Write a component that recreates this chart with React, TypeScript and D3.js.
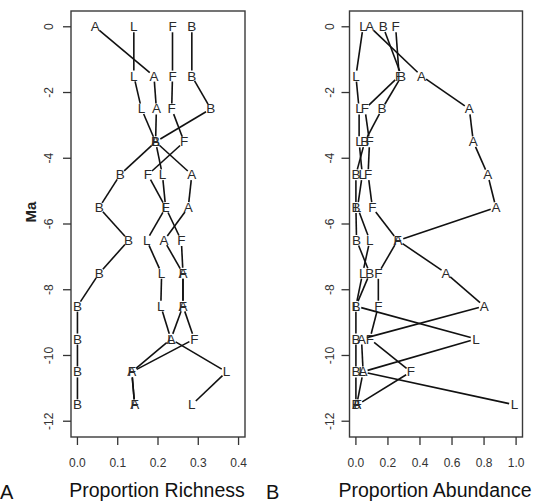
import React from "react";
import * as d3 from "d3";

const ma = [0, -1.5, -2.5, -3.5, -4.5, -5.5, -6.5, -7.5, -8.5, -9.5, -10.5, -11.5];

const richA = [0.044, 0.19, 0.196, 0.194, 0.284, 0.275, 0.215, 0.262, 0.262, 0.232, 0.135, 0.142];
const richL = [0.14, 0.14, 0.159, 0.194, 0.211, 0.219, 0.172, 0.209, 0.207, 0.232, 0.37, 0.284];
const richF = [0.236, 0.236, 0.234, 0.265, 0.175, 0.219, 0.258, 0.262, 0.262, 0.29, 0.135, 0.142];
const richB = [0.284, 0.284, 0.331, 0.194, 0.106, 0.054, 0.127, 0.054, 0, 0, 0, 0];

const abA = [0.087, 0.41, 0.708, 0.733, 0.823, 0.874, 0.263, 0.563, 0.801, 0.035, 0.045, 0.005];
const abL = [0.045, 0.0, 0.02, 0.02, 0.04, 0.01, 0.087, 0.042, 0.0, 0.75, 0.04, 0.99];
const abF = [0.248, 0.27, 0.056, 0.085, 0.076, 0.103, 0.26, 0.14, 0.14, 0.087, 0.343, 0.01];
const abB = [0.17, 0.285, 0.163, 0.055, 0.0, 0.0, 0.004, 0.087, 0.0, 0.0, 0.0, 0.0];

const yTicks = [0, -2, -4, -6, -8, -10, -12];
const richTicks = [0, 0.1, 0.2, 0.3, 0.4];
const abTicks = [0, 0.2, 0.4, 0.6, 0.8, 1.0];

const seriesNames = ["A", "L", "F", "B"];

const FONT = "Liberation Sans, Arial, Helvetica, sans-serif";

const y = d3.scaleLinear().domain([0.48, -12.48]).range([11, 437]);

type PanelProps = {
  x: d3.ScaleLinear<number, number>;
  series: number[][];
  ticks: number[];
  title: string;
  titleX: number;
  yLabelX: number;
};

function Panel({ x, series, ticks, title, titleX, yLabelX }: PanelProps) {
  const [x0, x1] = x.range();
  const gap = 5.5;
  const segs: { x1: number; y1: number; x2: number; y2: number; k: string }[] = [];
  series.forEach((vals, si) => {
    for (let i = 0; i < vals.length - 1; i++) {
      const ax = x(vals[i]), ay = y(ma[i]);
      const bx = x(vals[i + 1]), by = y(ma[i + 1]);
      const dx = bx - ax, dy = by - ay;
      const len = Math.hypot(dx, dy);
      if (len <= gap * 2) continue;
      const ux = dx / len, uy = dy / len;
      segs.push({
        x1: ax + ux * gap,
        y1: ay + uy * gap,
        x2: bx - ux * gap,
        y2: by - uy * gap,
        k: `${si}-${i}`,
      });
    }
  });
  return (
    <g>
      <rect x={x0} y={11} width={x1 - x0} height={426} fill="none" stroke="#3a3a3a" strokeWidth={1.4} />
      {yTicks.map((t) => (
        <g key={`yt${t}`}>
          <line x1={x0 - 8} x2={x0} y1={y(t)} y2={y(t)} stroke="#333" strokeWidth={1.3} />
          <text
            transform={`translate(${yLabelX},${y(t)}) rotate(-90)`}
            textAnchor="middle"
            dominantBaseline="central"
            fontSize={12}
            fontFamily={FONT}
            fill="#333"
          >
            {t === 0 ? "0" : `-${Math.abs(t)}`}
          </text>
        </g>
      ))}
      {ticks.map((t) => (
        <g key={`xt${t}`}>
          <line x1={x(t)} x2={x(t)} y1={437} y2={445} stroke="#333" strokeWidth={1.3} />
          <text x={x(t)} y={467} textAnchor="middle" fontSize={12} fontFamily={FONT} fill="#333">
            {t.toFixed(1)}
          </text>
        </g>
      ))}
      {segs.map((s) => (
        <line key={s.k} x1={s.x1} y1={s.y1} x2={s.x2} y2={s.y2} stroke="#111" strokeWidth={1.6} />
      ))}
      {series.map((vals, si) =>
        vals.map((v, i) => (
          <text
            key={`p${si}-${i}`}
            x={x(v)}
            y={y(ma[i])}
            textAnchor="middle"
            dominantBaseline="central"
            fontSize={13.5}
            fontFamily={FONT}
            fill="#2a2a2a"
          >
            {seriesNames[si]}
          </text>
        ))
      )}
      <text x={titleX} y={497} textAnchor="middle" fontSize={19.5} fontFamily={FONT} fill="#111">
        {title}
      </text>
    </g>
  );
}

export default function App() {
  const xRich = d3.scaleLinear().domain([-0.016, 0.416]).range([71, 245]);
  const xAb = d3.scaleLinear().domain([-0.04, 1.04]).range([349.5, 522.5]);
  return (
    <svg
      width={537}
      height={504}
      style={{ position: "absolute", left: 0, top: 0, background: "#fff" }}
    >
      <rect x={0} y={0} width={537} height={504} fill="#fff" />
      <Panel
        x={xRich}
        series={[richA, richL, richF, richB]}
        ticks={richTicks}
        title="Proportion Richness"
        titleX={157}
        yLabelX={49}
      />
      <Panel
        x={xAb}
        series={[abA, abL, abF, abB]}
        ticks={abTicks}
        title="Proportion Abundance"
        titleX={435}
        yLabelX={330}
      />
      <text
        transform="translate(30,212) rotate(-90)"
        textAnchor="middle"
        dominantBaseline="central"
        fontSize={15}
        fontWeight="bold"
        fontFamily={FONT}
        fill="#222"
      >
        Ma
      </text>
      <text x={0} y={499} fontSize={20} fontFamily={FONT} fill="#111">
        A
      </text>
      <text x={266} y={499} fontSize={20} fontFamily={FONT} fill="#111">
        B
      </text>
    </svg>
  );
}
